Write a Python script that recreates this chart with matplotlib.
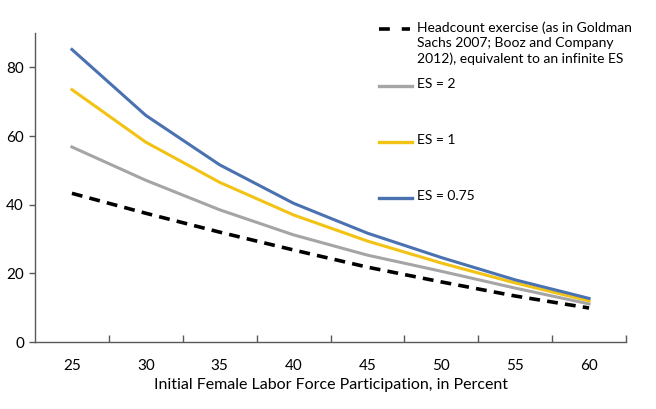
import matplotlib
matplotlib.use("Agg")
import matplotlib.pyplot as plt
from matplotlib.lines import Line2D

plt.rcParams['font.family'] = ['Lato', 'DejaVu Sans']

categories = ["25", "30", "35", "40", "45", "50", "55", "60"]
headcount = [43.3, 37.5, 32.0, 26.8, 21.8, 17.5, 13.4, 9.9]
es2 = [56.8, 47.1, 38.5, 31.2, 25.3, 20.6, 15.7, 11.1]
es1 = [73.5, 58.2, 46.5, 37.0, 29.4, 23.0, 17.2, 12.0]
es075 = [85.2, 66.0, 51.6, 40.4, 31.7, 24.6, 18.1, 12.7]

series = [
    ("Headcount exercise (as in Goldman\nSachs 2007; Booz and Company\n2012), equivalent to an infinite ES", headcount, "black", "--"),
    ("ES = 2", es2, "#A5A5A5", "-"),
    ("ES = 1", es1, "#F2C314", "-"),
    ("ES = 0.75", es075, "#4A72B0", "-"),
]

W, H = 656, 409
fig = plt.figure(figsize=(W / 100, H / 100), dpi=100)
ax = fig.add_axes([35 / W, 1 - 342 / H, (626 - 35) / W, (342 - 33) / H])

x = list(range(len(categories)))
for label, vals, color, ls in series:
    if ls == "--":
        ax.plot(x, vals, color=color, lw=2.6, dashes=(3.0, 2.0))
    else:
        ax.plot(x, vals, color=color, lw=2.2)

ax.set_xlim(-0.5, len(categories) - 0.5)
ax.set_ylim(0, 90)
ax.set_yticks([0, 20, 40, 60, 80])
ax.set_xticks([i + 0.5 for i in range(len(categories))])
ax.set_xticklabels([])
ax.set_xticks(x, minor=True)
ax.set_xticklabels(categories, minor=True)
ax.tick_params(axis='x', which='major', direction='in', length=5, color='#595959', width=1)
ax.tick_params(axis='x', which='minor', length=0, pad=12, labelsize=11)
ax.tick_params(axis='y', which='major', direction='out', length=4, color='#595959', width=1, labelsize=11, pad=4)

for s in ['top', 'right']:
    ax.spines[s].set_visible(False)
for s in ['left', 'bottom']:
    ax.spines[s].set_color('#595959')
    ax.spines[s].set_linewidth(1)

ax.set_xlabel("Initial Female Labor Force Participation, in Percent", fontsize=11.5, labelpad=4)

# legend (manual placement)
row_y = [29, 86, 142, 198]
for (label, vals, color, ls), yy in zip(series, row_y):
    yf = 1 - yy / H
    if ls == "--":
        fig.add_artist(Line2D([379 / W, 410 / W], [yf, yf], color=color, lw=2.6,
                              dashes=(3.0, 3.3), transform=fig.transFigure))
    else:
        fig.add_artist(Line2D([379 / W, 412 / W], [yf, yf], color=color, lw=2.4,
                              transform=fig.transFigure))
    fig.text(417 / W, 1 - (yy - 7.5) / H, label, fontsize=10, va='top', ha='left',
             linespacing=1.32)

fig.savefig("out.png", dpi=100)
